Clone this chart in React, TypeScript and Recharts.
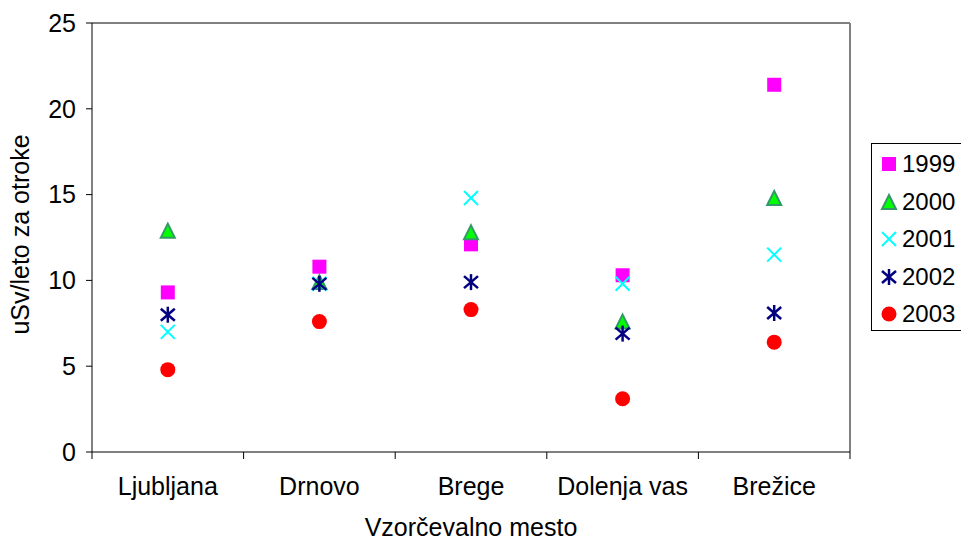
import React from "react";
import { ComposedChart, Scatter, XAxis, YAxis, Label, ReferenceLine } from "recharts";

const sites = ["Ljubljana", "Drnovo", "Brege", "Dolenja vas", "Brežice"];
const y1999 = [9.3, 10.8, 12.1, 10.3, 21.4];
const y2000 = [12.9, 9.9, 12.8, 7.6, 14.8];
const y2001 = [7.0, 9.8, 14.8, 9.8, 11.5];
const y2002 = [8.0, 9.8, 9.9, 6.9, 8.1];
const y2003 = [4.8, 7.6, 8.3, 3.1, 6.4];
const yTicks = [0, 5, 10, 15, 20, 25];

const FONT = "Arial, 'Liberation Sans', sans-serif";
const AXIS_FONT = 25;

// each site sits in the middle of a unit-wide slot on a numeric axis
const siteTicks = sites.map((_, i) => i + 0.5);

const data = sites.map((site, i) => ({
  site,
  pos: i + 0.5,
  v1999: y1999[i],
  v2000: y2000[i],
  v2001: y2001[i],
  v2002: y2002[i],
  v2003: y2003[i],
}));

type MarkerKind = "square" | "triangle" | "cross" | "star" | "circle";

function Marker({ kind, cx, cy }: { kind: MarkerKind; cx: number; cy: number }) {
  switch (kind) {
    case "square":
      return <rect x={cx - 7} y={cy - 7} width={14} height={14} fill="#FF00FF" />;
    case "triangle":
      return (
        <polygon
          points={`${cx},${cy - 7} ${cx + 7},${cy + 7} ${cx - 7},${cy + 7}`}
          fill="#00FF00"
          stroke="#339966"
          strokeWidth={2}
        />
      );
    case "cross":
      return (
        <g stroke="#00FFFF" strokeWidth={2}>
          <line x1={cx - 7} y1={cy - 7} x2={cx + 7} y2={cy + 7} />
          <line x1={cx - 7} y1={cy + 7} x2={cx + 7} y2={cy - 7} />
        </g>
      );
    case "star":
      return (
        <g stroke="#000080" strokeWidth={2.5}>
          <line x1={cx - 7} y1={cy - 6} x2={cx + 7} y2={cy + 6} />
          <line x1={cx - 7} y1={cy + 6} x2={cx + 7} y2={cy - 6} />
          <line x1={cx} y1={cy - 8} x2={cx} y2={cy + 8} />
        </g>
      );
    default:
      return <circle cx={cx} cy={cy} r={7.5} fill="#FF0000" />;
  }
}

const series: { key: string; name: string; kind: MarkerKind }[] = [
  { key: "v1999", name: "1999", kind: "square" },
  { key: "v2000", name: "2000", kind: "triangle" },
  { key: "v2001", name: "2001", kind: "cross" },
  { key: "v2002", name: "2002", kind: "star" },
  { key: "v2003", name: "2003", kind: "circle" },
];

// label in the slot centre, tick marks on the slot edges
function SiteTick(props: any) {
  const { x, y, index, width } = props;
  const band = (width || 758) / sites.length;
  const left = x - band / 2;
  return (
    <g>
      <line x1={left} y1={y} x2={left} y2={y + 7} stroke="#000" />
      {index === sites.length - 1 && (
        <line x1={x + band / 2} y1={y} x2={x + band / 2} y2={y + 7} stroke="#000" />
      )}
      <text x={x} y={y + 43} textAnchor="middle" fontSize={AXIS_FONT} fontFamily={FONT} fill="#000">
        {sites[index]}
      </text>
    </g>
  );
}

function Legend() {
  return (
    <div
      style={{
        position: "absolute",
        left: 871,
        top: 143,
        width: 100,
        height: 188,
        border: "1px solid #000",
        background: "#fff",
        boxSizing: "border-box",
      }}
    >
      {series.map((s, i) => (
        <div key={s.key} style={{ position: "absolute", left: 0, top: 2 + i * 37.5, height: 36, width: 100 }}>
          <svg width={30} height={36} style={{ position: "absolute", left: 0, top: 0 }}>
            <Marker kind={s.kind} cx={17} cy={18} />
          </svg>
          <span
            style={{
              position: "absolute",
              left: 30,
              top: 4,
              fontFamily: FONT,
              fontSize: 24,
              lineHeight: "28px",
              color: "#000",
            }}
          >
            {s.name}
          </span>
        </div>
      ))}
    </div>
  );
}

export default function App() {
  return (
    <div
      style={{
        position: "absolute",
        left: 0,
        top: 0,
        width: 961,
        height: 541,
        overflow: "hidden",
        background: "#fff",
      }}
    >
      <ComposedChart
        width={961}
        height={541}
        data={data}
        margin={{ top: 23, right: 111, bottom: 0, left: 0 }}
      >
        <XAxis
          type="number"
          dataKey="pos"
          domain={[0, 5]}
          ticks={siteTicks}
          interval={0}
          height={89}
          tickLine={false}
          tickSize={0}
          tickMargin={0}
          axisLine={false}
          tick={<SiteTick />}
        >
          <Label
            content={({ viewBox }: any) => (
              <text
                x={viewBox.x + viewBox.width / 2}
                y={viewBox.y + 84}
                textAnchor="middle"
                fontSize={AXIS_FONT}
                fontFamily={FONT}
                fill="#000"
              >
                Vzorčevalno mesto
              </text>
            )}
          />
        </XAxis>
        <YAxis
          type="number"
          width={92}
          domain={[0, 25]}
          ticks={yTicks}
          interval={0}
          tickSize={6}
          tickMargin={10}
          axisLine={{ stroke: "#000" }}
          tickLine={{ stroke: "#000" }}
          tick={{ fontSize: AXIS_FONT, fontFamily: FONT, fill: "#000" }}
        >
          <Label
            content={({ viewBox }: any) => {
              const cx = viewBox.x + 20;
              const cy = viewBox.y + viewBox.height / 2 - 3;
              return (
                <text
                  x={cx}
                  y={cy}
                  transform={`rotate(-90, ${cx}, ${cy})`}
                  textAnchor="middle"
                  dominantBaseline="central"
                  fontSize={AXIS_FONT}
                  fontFamily={FONT}
                  fill="#000"
                >
                  uSv/leto za otroke
                </text>
              );
            }}
          />
        </YAxis>
        {/* plot area frame: grey top and right, black baseline */}
        <ReferenceLine y={25} stroke="#808080" strokeWidth={2} />
        <ReferenceLine x={5} stroke="#808080" strokeWidth={2} />
        <ReferenceLine y={0} stroke="#000" strokeWidth={1} />
        {series.map((s) => (
          <Scatter
            key={s.key}
            name={s.name}
            dataKey={s.key}
            isAnimationActive={false}
            shape={(p: any) => <Marker kind={s.kind} cx={p.cx} cy={p.cy} />}
          />
        ))}
      </ComposedChart>
      <Legend />
    </div>
  );
}
